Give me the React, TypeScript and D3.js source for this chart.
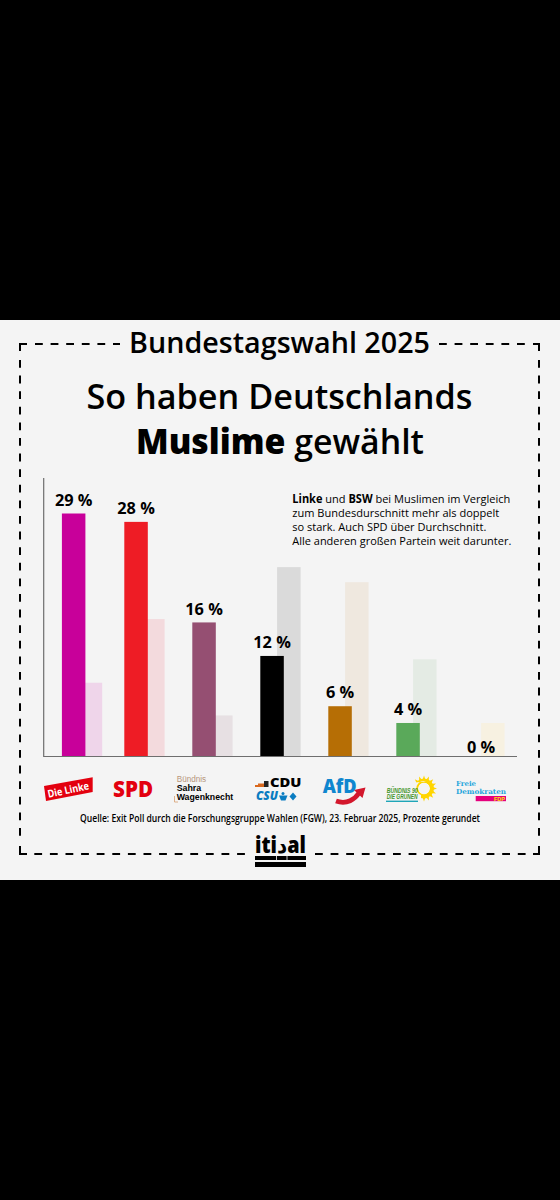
import { useEffect, useRef } from 'react';
import * as d3 from 'd3';

// Wahlergebnis unter Muslimen vs. Bundesergebnis, Werte aus dem Bild gelesen
const parties = ['Die Linke', 'SPD', 'BSW', 'CDU/CSU', 'AfD', 'Grüne', 'FDP'];
const muslimShare = [29, 28, 16, 12, 6, 4, 0];
const nationalShare = [8.8, 16.4, 4.9, 22.6, 20.8, 11.6, 4.0];
const mainColors = ['#c8009a', '#ee1c25', '#954f72', '#000000', '#b66e05', '#5aa95a', '#f2e6c8'];
const lightColors = ['#efd5ea', '#f3dadd', '#e7e0e3', '#dadada', '#efe8df', '#e4ebe4', '#f7f1e1'];

const FONT = '"Open Sans", "Noto Sans", sans-serif';
const SANS = '"Liberation Sans", sans-serif';

const App = () => {
  const svgRef = useRef<SVGSVGElement>(null);

  useEffect(() => {
    const svg = d3.select(svgRef.current);
    svg.selectAll('*').remove();

    svg.append('rect').attr('width', 560).attr('height', 1200).attr('fill', '#000');
    svg.append('rect').attr('y', 320).attr('width', 560).attr('height', 560).attr('fill', '#f4f4f4');

    const text = (x, y, str, size, opts: any = {}) => {
      const t = svg.append('text')
        .attr('x', x).attr('y', y)
        .attr('font-family', opts.font || FONT)
        .attr('font-size', size)
        .attr('font-weight', opts.weight || 400)
        .attr('font-style', opts.italic ? 'italic' : 'normal')
        .attr('text-anchor', opts.anchor || 'middle')
        .attr('fill', opts.fill || '#000')
        .text(str);
      if (opts.len) t.attr('textLength', opts.len).attr('lengthAdjust', 'spacingAndGlyphs');
      if (opts.rotate) t.attr('transform', `rotate(${opts.rotate} ${x} ${y})`);
      return t;
    };

    // gestrichelter Rahmen
    const frame = svg.append('g').attr('fill', 'none').attr('stroke', '#000').attr('stroke-width', 2);
    frame.append('path').attr('d', 'M20,351V344H27M533,344H539V351M20,846V854H27M533,854H539V846');
    const dashed = frame.append('g').attr('stroke-dasharray', '7.8 7.8');
    dashed.append('path').attr('d', 'M35,344H120');
    dashed.append('path').attr('d', 'M439,344H527');
    dashed.append('path').attr('d', 'M20,360V842');
    dashed.append('path').attr('d', 'M539,360V842');
    dashed.append('path').attr('d', 'M34.3,854H245');
    dashed.append('path').attr('d', 'M315,854H527');

    // Überschriften
    text(279.5, 353, 'Bundestagswahl 2025', 29, { weight: 600, len: 301 });
    text(279.5, 409, 'So haben Deutschlands', 34.5, { weight: 600, len: 386 });
    const sub = text(280, 454, '', 34.5, { weight: 600, len: 288 });
    sub.append('tspan').attr('font-weight', 800).text('Muslime');
    sub.append('tspan').text(' gewählt');

    // Diagramm
    const baseY = 756.5;
    const y = d3.scaleLinear().domain([0, 29]).range([baseY, 513.5]);
    const xBand = d3.scaleBand().domain(parties).range([124.3 - 68, 124.3 + 68 * 6]).paddingInner(0).paddingOuter(0);
    // Die Linke sitzt im Original etwas näher am Nachbarn
    const xPos = (p) => xBand(p) + (p === 'Die Linke' ? 5.6 : 0);
    const barW = 23.5;
    const lightOffset = 16.8;

    svg.append('g').selectAll('rect').data(parties).join('rect')
      .attr('x', (p) => xPos(p) + lightOffset)
      .attr('y', (_, i) => y(nationalShare[i]))
      .attr('width', barW)
      .attr('height', (_, i) => baseY - y(nationalShare[i]))
      .attr('fill', (_, i) => lightColors[i]);

    svg.append('g').selectAll('rect').data(parties).join('rect')
      .attr('x', (p) => xPos(p))
      .attr('y', (_, i) => y(muslimShare[i]))
      .attr('width', barW)
      .attr('height', (_, i) => baseY - y(muslimShare[i]))
      .attr('fill', (_, i) => mainColors[i]);

    svg.append('g').selectAll('text').data(parties).join('text')
      .attr('x', (p) => xPos(p) + barW / 2 + (p === 'FDP' ? 5 : 0))
      .attr('y', (_, i) => y(muslimShare[i]) - (muslimShare[i] === 0 ? 3.8 : 7.8))
      .attr('text-anchor', 'middle')
      .attr('font-family', FONT)
      .attr('font-size', 16.3)
      .attr('font-weight', 700)
      .text((_, i) => `${muslimShare[i]} %`);

    svg.append('path')
      .attr('d', `M43.7,478V${baseY}H517`)
      .attr('fill', 'none')
      .attr('stroke', '#6e6e6e')
      .attr('stroke-width', 1.2);

    // Anmerkung
    const note = [
      [['Linke', 700], [' und ', 400], ['BSW', 700], [' bei Muslimen im Vergleich', 400]],
      [['zum Bundesdurschnitt mehr als doppelt', 400]],
      [['so stark. Auch SPD über Durchschnitt.', 400]],
      [['Alle anderen großen Partein weit darunter.', 400]],
    ];
    const noteLens = [218, 207, 194, 219];
    note.forEach((parts, i) => {
      const t = text(292.3, 503.4 + i * 14, '', 11.5, { anchor: 'start', len: noteLens[i], weight: 500 });
      parts.forEach(([s, w]) => {
        t.append('tspan').attr('font-weight', w === 400 ? 500 : w).attr('xml:space', 'preserve').text(s as string);
      });
    });

    // Logos
    svg.append('path').attr('d', 'M44,786L92.7,777.3V792L46,801Z').attr('fill', '#e3000f');
    text(69, 793.5, 'Die Linke', 10.5, { weight: 700, fill: '#fff', rotate: -12, len: 42 });

    text(133, 797, 'SPD', 23, { weight: 800, fill: '#e3000f', len: 40 });

    text(176.7, 782.3, 'Bündnis', 8.5, { anchor: 'start', fill: '#b8977c', len: 29.5, font: SANS });
    text(176.7, 791, 'Sahra', 8.5, { anchor: 'start', weight: 700, len: 24.5, font: SANS });
    text(176.7, 799.5, 'Wagenknecht', 8.5, { anchor: 'start', weight: 700, len: 56.5, font: SANS });
    svg.append('path').attr('d', 'M174.5,796V802H178').attr('fill', 'none').attr('stroke', '#d8a070').attr('stroke-width', 0.8);

    // CDU/CSU
    svg.append('path').attr('d', 'M255,787V785H258V783.5H264V787Z').attr('fill', '#d9681d');
    svg.append('rect').attr('x', 264).attr('y', 781).attr('width', 4.5).attr('height', 6).attr('fill', '#222');
    text(270, 787, 'CDU', 11.5, { anchor: 'start', weight: 800, len: 31.5 });
    text(256, 800, 'CSU', 11.5, { anchor: 'start', weight: 800, italic: true, fill: '#0a7cc1', len: 22 });
    const csuMark = svg.append('g').attr('fill', '#0a7cc1');
    csuMark.append('circle').attr('cx', 283).attr('cy', 793.5).attr('r', 1.5);
    csuMark.append('path').attr('d', 'M279,795.5H287.5L285.5,800.5H281Z');
    csuMark.append('path').attr('d', 'M293,792.5L296.5,796.5L293,800.5L289.5,796.5Z');

    // AfD
    text(339.7, 792.5, 'AfD', 18.5, { weight: 800, fill: '#0f86cf', len: 34 });
    svg.append('path').attr('d', 'M336,801C347,805 355,799 359,793').attr('fill', 'none').attr('stroke', '#d3172c').attr('stroke-width', 4.8);
    svg.append('path').attr('d', 'M354,790L365.5,787.5L362.5,798Z').attr('fill', '#d3172c');

    // Grüne
    const sunflower = svg.append('g');
    const petals = d3.range(16).map((i) => (i / 16) * 360);
    sunflower.selectAll('path').data(petals).join('path')
      .attr('d', 'M0,-13L2.4,-6H-2.4Z')
      .attr('transform', (a) => `translate(424,788.5) rotate(${a})`)
      .attr('fill', '#ffd500');
    sunflower.append('circle').attr('cx', 424).attr('cy', 788.5).attr('r', 8).attr('fill', 'none').attr('stroke', '#ffd500').attr('stroke-width', 4);
    sunflower.append('path').attr('d', 'M426,781.5A7,7 0 0,0 421,795V800H409V783Z').attr('fill', '#f4f4f4');
    text(386.7, 792.7, 'BÜNDNIS 90', 6.4, { anchor: 'start', weight: 800, italic: true, fill: '#46962b', len: 31, font: SANS });
    text(386.7, 799, 'DIE GRÜNEN', 6.4, { anchor: 'start', weight: 800, italic: true, fill: '#46962b', len: 31, font: SANS });
    svg.append('rect').attr('x', 386).attr('y', 800.6).attr('width', 32).attr('height', 1.4).attr('fill', '#1fa6b8');

    // FDP
    text(456, 786, 'Freie', 7, { anchor: 'start', weight: 700, fill: '#27a7dc', font: 'DejaVu Serif', len: 20 });
    text(456, 794.2, 'Demokraten', 7, { anchor: 'start', weight: 700, fill: '#27a7dc', font: 'DejaVu Serif', len: 50 });
    svg.append('rect').attr('x', 475.7).attr('y', 796).attr('width', 30.3).attr('height', 5.2).attr('fill', '#e5007d');
    text(505, 801, 'FDP', 5.5, { anchor: 'end', weight: 800, fill: '#ffed00', font: SANS });

    // Quelle
    text(280, 821.5, 'Quelle: Exit Poll durch die Forschungsgruppe Wahlen (FGW), 23. Februar 2025, Prozente gerundet', 10, { weight: 600, len: 400 });

    // itidal Logo
    text(280.5, 853, 'itiدal', 22, { weight: 800, len: 51, font: '"Open Sans", "DejaVu Sans", sans-serif' });
    const bar = svg.append('g').attr('fill', '#000');
    bar.append('rect').attr('x', 255).attr('y', 856).attr('width', 21).attr('height', 4);
    bar.append('rect').attr('x', 276.8).attr('y', 856).attr('width', 9.8).attr('height', 4);
    bar.append('rect').attr('x', 287.4).attr('y', 856).attr('width', 18.6).attr('height', 4);
    bar.append('rect').attr('x', 255).attr('y', 862).attr('width', 51).attr('height', 5);
  }, []);

  return (
    <svg
      ref={svgRef}
      width={560}
      height={1200}
      style={{ position: 'absolute', left: 0, top: 0, display: 'block' }}
    />
  );
};

export default App;
